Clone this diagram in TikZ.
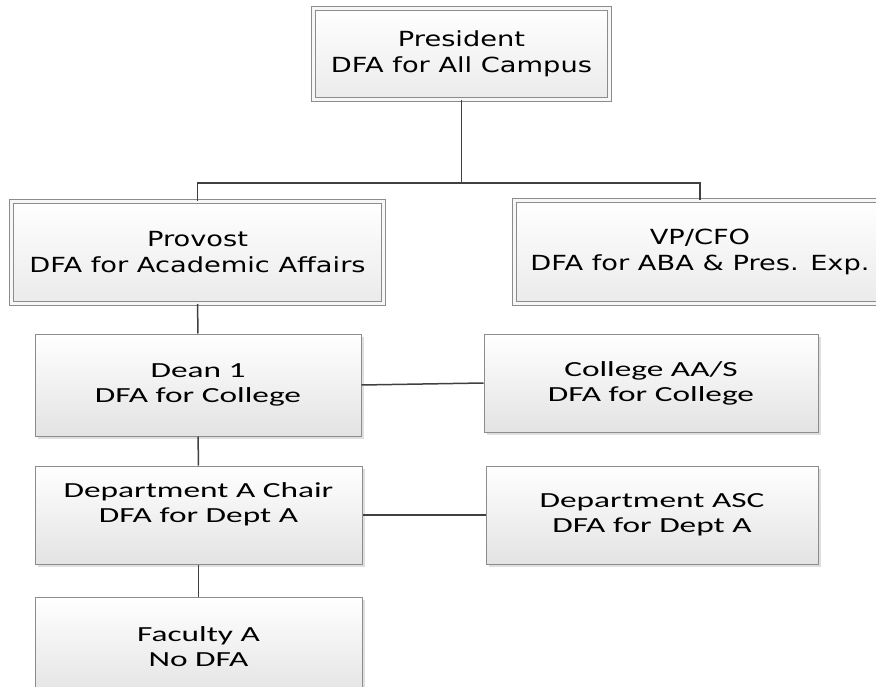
\documentclass[tikz,border=0pt]{standalone}
\usepackage{fontspec}
\usetikzlibrary{shadows}
\newfontfamily\topfont[FakeStretch=1.31]{DejaVu Sans}
\newfontfamily\lowfont[FakeStretch=1.55]{Carlito}
\definecolor{boxline}{HTML}{8C8C8C}
\definecolor{linkline}{HTML}{404040}
\tikzset{
    boxshadow/.style={drop shadow={shadow xshift=2.5pt, shadow yshift=-2.5pt, opacity=0.25}},
    topbox/.style={draw=boxline, line width=1pt, double=white!97!black, double distance=3pt,
        top color=white, bottom color=black!8, boxshadow, align=center, inner sep=0pt,
        font=\topfont\fontsize{20.8}{26}\selectfont},
    lowbox/.style={draw=boxline, line width=1pt, top color=white, bottom color=black!11,
        boxshadow, align=center, inner sep=0pt, font=\lowfont\fontsize{21.5}{25}\selectfont},
    link/.style={draw=linkline, line width=1.5pt}
}
\begin{document}
\begin{tikzpicture}[x=1pt, y=-1pt]
        \useasboundingbox (0,0) rectangle (876,687);
        \clip (0,0) rectangle (876,687);

        % top level
        \node[topbox, minimum width=296, minimum height=91] (pres) at (461.5,54)
            {President\\DFA for All Campus};
        \node[topbox, minimum width=372, minimum height=102] (prov) at (197.5,252.5)
            {Provost\\DFA for Academic Affairs};
        \node[topbox, minimum width=371, minimum height=103] (vp) at (700,252)
            {VP/CFO\\DFA for ABA \& Pres. Exp.};

        % college and department
        \node[lowbox, minimum width=326, minimum height=102] (dean) at (198,385)
            {Dean 1\\DFA for College};
        \node[lowbox, minimum width=334, minimum height=98] (aas) at (651,383)
            {College AA/S\\DFA for College};
        \node[lowbox, minimum width=327, minimum height=98] (chair) at (198.5,515)
            {Department A Chair\\DFA for Dept A\\\mbox{}};
        \node[lowbox, minimum width=332, minimum height=98] (asc) at (652,515)
            {Department ASC\\DFA for Dept A};
        \node[lowbox, minimum width=327, minimum height=100] (fac) at (198.5,647)
            {Faculty A\\No DFA};

        \coordinate (bus) at (461.5,183);
        \draw[link] (pres) -- (bus);
        \draw[link] (prov.north) |- (bus) -| (vp.north);
        \draw[link] (prov) -- (dean);
        \draw[link] (dean) -- (chair);
        \draw[link] (chair) -- (fac);
        \draw[link] (dean.east) -- (aas.west);
        \draw[link] (chair.east) -- (asc.west);
\end{tikzpicture}
\end{document}
